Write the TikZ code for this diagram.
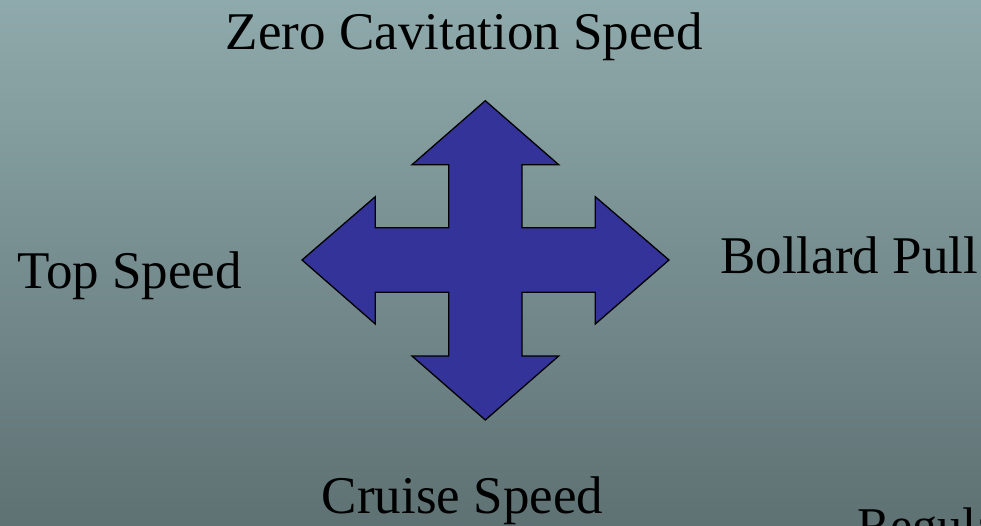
\documentclass[tikz,border=0pt]{standalone}
\usepackage{fontspec}
\setmainfont{Liberation Serif}
\definecolor{bgtop}{RGB}{143,170,172}
\definecolor{bgbot}{RGB}{94,113,115}
\definecolor{arrowblue}{HTML}{333399}
\begin{document}
\begin{tikzpicture}[x=1pt,y=-1pt,
  lbl/.style={inner sep=0pt, anchor=base, font=\fontsize{53}{60}\selectfont, text=black},
  crossarrow/.style={fill=arrowblue, draw=black, line width=1.3pt, line join=miter}]
\useasboundingbox (0,0) rectangle (981,525);
\clip (0,0) rectangle (981,525);
\shade[top color=bgtop, bottom color=bgbot] (0,0) rectangle (981,525);
\draw[crossarrow]
  (485.3,100.7) -- (558.7,164.7) -- (522,164.7) -- (522,227.7) -- (595.3,227.7)
  -- (595.3,196.7) -- (669,260) -- (595.3,324) -- (595.3,292.3) -- (522,292.3)
  -- (522,356) -- (558.7,356) -- (485.3,420) -- (412,356) -- (448.7,356)
  -- (448.7,292.3) -- (375.3,292.3) -- (375.3,324) -- (302,260) -- (375.3,196.7)
  -- (375.3,227.7) -- (448.7,227.7) -- (448.7,164.7) -- (412,164.7) -- cycle;
\node[lbl] (zero) at (464.4,49.3) {Zero Cavitation Speed};
\node[lbl] (top) at (129.7,288.7) {Top Speed};
\node[lbl] (bollard) at (849.2,273.7) {Bollard Pull};
\node[lbl] (cruise) at (462.5,513.7) {Cruise Speed};
\node[lbl, anchor=base west, font=\fontsize{50}{60}\selectfont] (regula) at (857,542) {Regula};
\end{tikzpicture}
\end{document}
